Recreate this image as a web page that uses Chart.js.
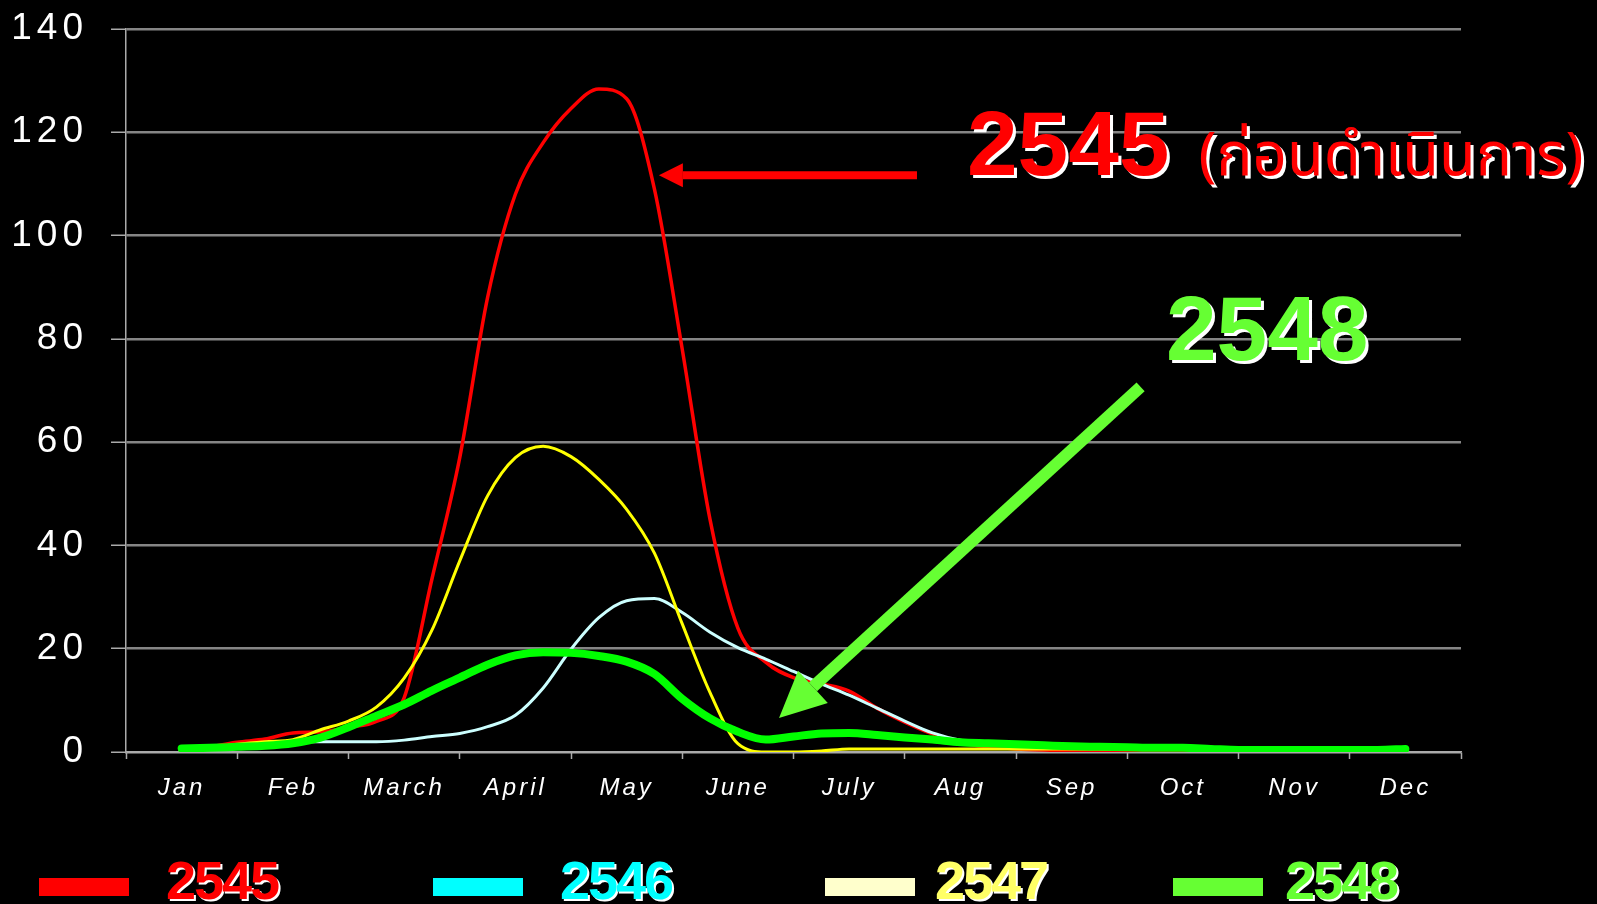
<!DOCTYPE html>
<html>
<head>
<meta charset="utf-8">
<script src="https://cdn.jsdelivr.net/npm/chart.js@4.4.1/dist/chart.umd.min.js"></script>
<style>
  body { margin: 0; background: #000; overflow: hidden; }
  #wrap { position: relative; width: 1597px; height: 904px; background: #000; }
  #wrap canvas { position: absolute; left: 0; top: 0; }
  .note, .leg-text {
    position: absolute; white-space: nowrap; line-height: 1;
    font-family: 'Liberation Sans', Arial, sans-serif; font-weight: bold;
  }
  .note { font-size: 91px; text-shadow: 3px 3px 0 #fff; }
  .note .th { font-size: 60px; font-weight: normal; margin-left: 29px;
    font-family: 'Noto Sans Thai', 'Loma', 'Garuda', 'Norasi', 'Liberation Sans', sans-serif; }
  .leg-text { font-size: 54px; letter-spacing: -2px; text-shadow: 2px 2px 0 #fff; }
  .leg-box { position: absolute; width: 90px; height: 18px; }
</style>
</head>
<body>
<div id="wrap">
  <canvas id="chart" width="1597" height="904"></canvas>
  <div class="note" style="left:967px; top:98px; color:#ff0000;">2545<span class="th">(ก่อนดำเนินการ)</span></div>
  <div class="note" style="left:1166px; top:283px; color:#66ff33;">2548</div>
  <div id="legend"></div>
</div>
<script>
// months on the x axis, data every quarter month from mid Jan to mid Dec
const months = ['Jan', 'Feb', 'March', 'April', 'May', 'June', 'July', 'Aug', 'Sep', 'Oct', 'Nov', 'Dec'];
const years = ['2545', '2546', '2547', '2548'];
const yTicks = [0, 20, 40, 60, 80, 100, 120, 140];

const v2545 = [0.5, 1.0, 1.9, 2.5, 3.7, 3.9, 4.8, 5.9, 10.5, 33.5,
  57, 88, 108, 118, 124.6, 128.4, 126.5, 109, 78, 45,
  24, 17.4, 14.4, 13.2, 11.8, 8.5, 5.8, 3.5, 1.8, 1.0,
  0.6, 0.4, 0.3, 0.3, 0.3, 0.3, 0.2, 0.2, 0.2, 0.2,
  0.2, 0.2, 0.2, 0.2, 0.2];
const v2546 = [0.5, 0.8, 1.3, 1.8, 2.0, 2.0, 2.0, 2.0, 2.3, 3.0,
  3.6, 4.9, 7.1, 12.4, 19.9, 26, 29.3, 29.7, 27, 23.2,
  20.2, 18, 15.6, 13.2, 11, 8.5, 6, 3.7, 2.3, 1.7,
  1.4, 1.2, 1.0, 0.9, 0.8, 0.8, 0.7, 0.7, 0.6, 0.6,
  0.6, 0.5, 0.5, 0.5, 0.5];
const v2547 = [0.5, 0.8, 1.5, 2.0, 2.4, 4.3, 6.0, 8.7, 14.3, 23.6,
  37, 49.6, 57, 59.2, 57.2, 52.8, 47, 38.5, 24.8, 11.5,
  1.6, 0, 0, 0.2, 0.6, 0.6, 0.6, 0.6, 0.6, 0.6,
  0.6, 0.6, 0.6, 0.6, 0.5, 0.5, 0.5, 0.5, 0.5, 0.5,
  0.5, 0.4, 0.4, 0.4, 0.4];
const v2548 = [0.7, 0.8, 1.0, 1.2, 1.7, 2.8, 4.8, 7.0, 9.2, 11.9,
  14.4, 16.9, 18.7, 19.3, 19.2, 18.6, 17.5, 15.1, 10.3, 6.5,
  3.9, 2.4, 3.0, 3.6, 3.7, 3.3, 2.8, 2.4, 1.9, 1.7,
  1.5, 1.3, 1.1, 1.0, 0.9, 0.8, 0.8, 0.6, 0.4, 0.4,
  0.4, 0.4, 0.4, 0.4, 0.6];

const lineColors = ['#ff0000', '#ccffff', '#ffff00', '#00ff00'];
const lineWidths = [3.5, 3, 3, 8];
const boxColors = ['#ff0000', '#00ffff', '#ffffcc', '#66ff33'];
const textColors = ['#ff0000', '#00ffff', '#ffff66', '#66ff33'];

function toPoints(values) {
  // quarter month steps, starting in the middle of January
  return values.map((v, i) => ({ x: 0.5 + i * 0.25, y: v }));
}

// legend under the chart
const legendPos = [[39, 166], [433, 560], [825, 935], [1173, 1285]];
const legend = document.getElementById('legend');
years.forEach((yr, i) => {
  const box = document.createElement('div');
  box.className = 'leg-box';
  box.style.left = legendPos[i][0] + 'px';
  box.style.top = '878px';
  box.style.background = boxColors[i];
  legend.appendChild(box);
  const txt = document.createElement('div');
  txt.className = 'leg-text';
  txt.style.left = legendPos[i][1] + 'px';
  txt.style.top = '853px';
  txt.style.color = textColors[i];
  txt.textContent = yr;
  legend.appendChild(txt);
});

function spaced(scale, sp) {
  if (!scale || scale._spaced) return;
  const orig = scale.drawLabels;
  scale.drawLabels = function (area) {
    const ctx = this.ctx;
    ctx.letterSpacing = sp;
    orig.call(this, area);
    ctx.letterSpacing = '0px';
  };
  scale._spaced = true;
}

function arrow(ctx, x1, y1, x2, y2, w, headLen, headW, color) {
  const a = Math.atan2(y2 - y1, x2 - x1);
  const bx = x2 - Math.cos(a) * headLen, by = y2 - Math.sin(a) * headLen;
  ctx.save();
  ctx.strokeStyle = color;
  ctx.fillStyle = color;
  ctx.lineWidth = w;
  ctx.beginPath();
  ctx.moveTo(x1, y1);
  ctx.lineTo(bx, by);
  ctx.stroke();
  ctx.beginPath();
  ctx.moveTo(x2, y2);
  ctx.lineTo(bx + Math.sin(a) * headW, by - Math.cos(a) * headW);
  ctx.lineTo(bx - Math.sin(a) * headW, by + Math.cos(a) * headW);
  ctx.closePath();
  ctx.fill();
  ctx.restore();
}

const extras = {
  id: 'extras',
  afterUpdate(chart) {
    spaced(chart.scales.x, '3px');
    spaced(chart.scales.y, '5px');
  },
  afterDraw(chart) {
    const { ctx, scales: { x, y } } = chart;
    arrow(ctx, x.getPixelForValue(7.11), y.getPixelForValue(111.7),
      x.getPixelForValue(4.79), y.getPixelForValue(111.7), 8, 24, 12, '#ff0000');
    arrow(ctx, x.getPixelForValue(9.12), y.getPixelForValue(70.7),
      x.getPixelForValue(5.87), y.getPixelForValue(6.6), 12, 46, 22, '#66ff33');
  }
};

Chart.defaults.font.family = "'Liberation Sans', Arial, sans-serif";

new Chart(document.getElementById('chart'), {
  type: 'line',
  data: {
    datasets: [v2545, v2546, v2547, v2548].map((vals, i) => ({
      label: years[i],
      data: toPoints(vals),
      borderColor: lineColors[i],
      backgroundColor: lineColors[i],
      borderWidth: lineWidths[i],
      pointRadius: 0,
      cubicInterpolationMode: 'monotone',
      borderCapStyle: 'round',
      borderJoinStyle: 'round',
      order: 4 - i
    }))
  },
  options: {
    responsive: false,
    devicePixelRatio: 1,
    animation: false,
    layout: { padding: { top: 29, right: 136, bottom: 0, left: 0 } },
    plugins: { legend: { display: false }, tooltip: { enabled: false } },
    scales: {
      x: {
        type: 'linear',
        min: 0,
        max: 12,
        afterFit(s) { s.height = 152; },
        afterBuildTicks(s) { s.ticks = months.concat(['']).map((m, i) => ({ value: i })); },
        grid: { drawOnChartArea: false, drawTicks: true, tickLength: 7, tickColor: '#aaaaaa', tickWidth: 1.5 },
        border: { color: '#aaaaaa', width: 1.5 },
        ticks: {
          autoSkip: false, maxRotation: 0, labelOffset: 55.6, padding: 15,
          color: '#ffffff', font: { size: 24, style: 'italic' },
          callback: (v) => months[v] || ''
        }
      },
      y: {
        min: 0,
        max: 140,
        afterFit(s) { s.width = 126; s.paddingTop = 0; s.paddingBottom = 0; },
        afterBuildTicks(s) { s.ticks = yTicks.map(v => ({ value: v })); },
        grid: {
          color: (c) => c.tick && c.tick.value === 0 ? '#aaaaaa' : '#858585',
          lineWidth: 2.5, drawTicks: true, tickLength: 15, tickColor: '#aaaaaa', tickWidth: 1.5
        },
        border: { color: '#aaaaaa', width: 1.5 },
        ticks: { padding: 23, color: '#ffffff', font: { size: 37 } }
      }
    }
  },
  plugins: [extras]
});
</script>
</body>
</html>
